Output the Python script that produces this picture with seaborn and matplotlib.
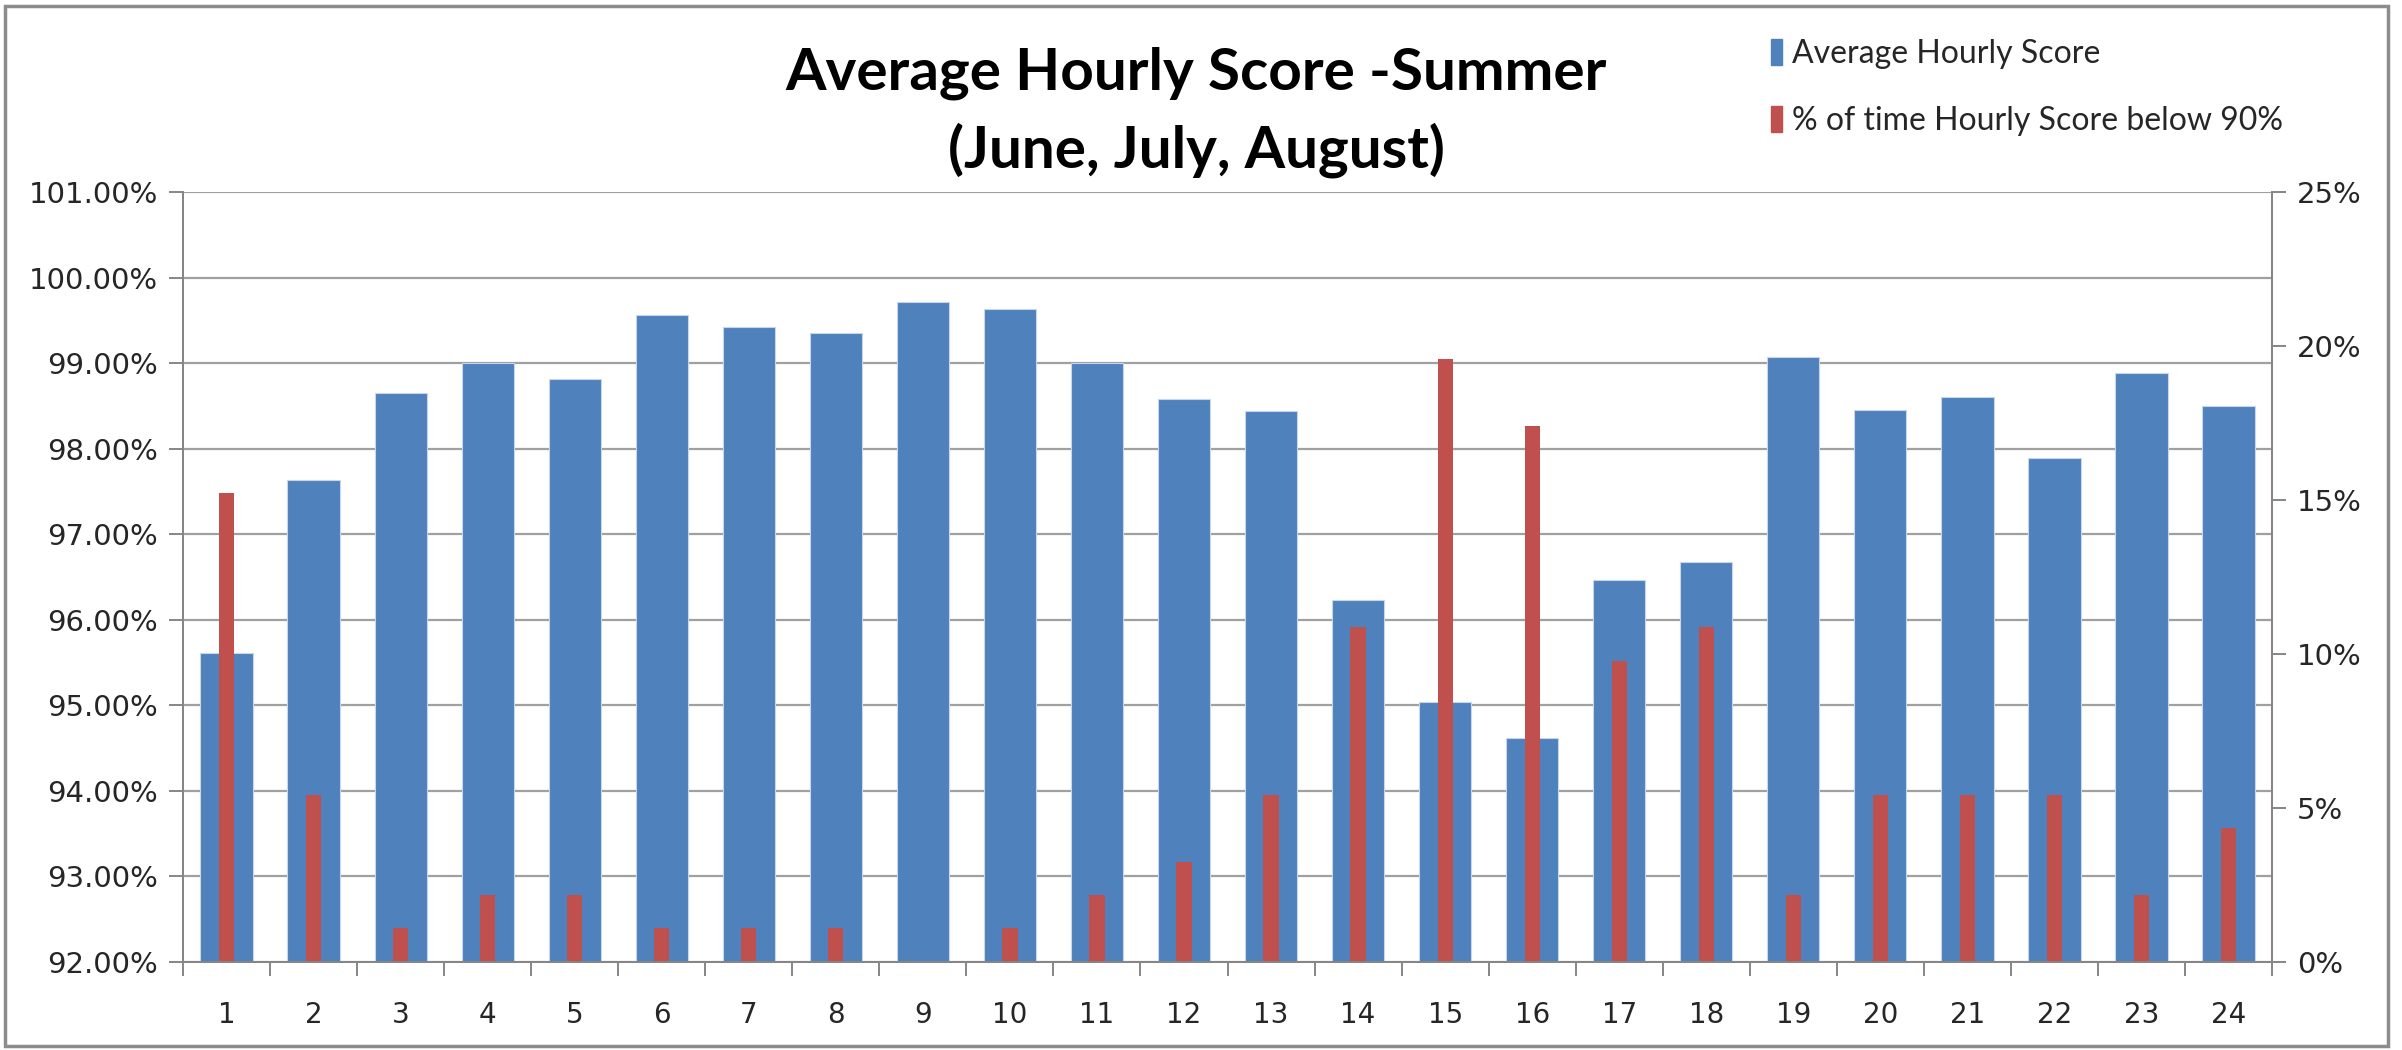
import numpy as np
import pandas as pd
import matplotlib.pyplot as plt
import matplotlib.patches as mpatches
from matplotlib.ticker import FuncFormatter, MultipleLocator, FixedLocator
import seaborn as sns

hours = list(range(1, 25))
avg_score = [95.61, 97.63, 98.65, 99.00, 98.81, 99.56, 99.42, 99.35, 99.71, 99.63,
             99.00, 98.58, 98.44, 96.23, 95.04, 94.62, 96.46, 96.68, 99.07, 98.45,
             98.61, 97.89, 98.89, 98.50]
pct_below = [15.22, 5.43, 1.09, 2.17, 2.17, 1.09, 1.09, 1.09, 0.00, 1.09,
             2.17, 3.26, 5.43, 10.87, 19.57, 17.39, 9.78, 10.87, 2.17, 5.43,
             5.43, 5.43, 2.17, 4.35]

blue = '#4F81BD'
red = '#C0504D'
grid_col = '#A0A0A0'
axis_col = '#868686'

df = pd.DataFrame({'hour': hours, 'avg': avg_score, 'pct': pct_below})

sns.set_style('white')
plt.rcParams['font.family'] = ['DejaVu Sans']

fig = plt.figure(figsize=(24.02, 10.5), dpi=100)
ax = fig.add_axes([0.0762, 0.0838, 0.8697, 0.7333])

sns.barplot(x='hour', y='avg', data=df, ax=ax, color=blue, width=0.6,
            saturation=1, edgecolor='#C9D6EA', linewidth=0.8)
ax.set_ylim(92, 101)
ax.set_xlim(-0.5, 23.5)
ax.yaxis.set_major_locator(MultipleLocator(1))
ax.yaxis.set_major_formatter(FuncFormatter(lambda v, p: f'{v:.2f}%'))
ax.grid(axis='y', color=grid_col, linewidth=1.6)
ax.set_axisbelow(True)
ax.set_xlabel('')
ax.set_ylabel('')

ax2 = ax.twinx()
sns.barplot(x='hour', y='pct', data=df, ax=ax2, color=red, width=0.175,
            saturation=1, linewidth=0)
ax2.set_ylim(0, 25)
ax2.set_xlim(-0.5, 23.5)
ax2.yaxis.set_major_locator(MultipleLocator(5))
ax2.yaxis.set_major_formatter(FuncFormatter(lambda v, p: f'{v:.0f}%'))
ax2.set_ylabel('')

for a in (ax, ax2):
    for s in a.spines.values():
        s.set_color(axis_col)
        s.set_linewidth(1.4)
    a.spines['top'].set_visible(False)

ax.tick_params(axis='y', which='major', length=10, width=1.4, color=axis_col,
               labelsize=21, labelcolor='#262626', pad=8, direction='out', left=True)
ax2.tick_params(axis='y', which='major', length=10, width=1.4, color=axis_col,
                labelsize=21, labelcolor='#262626', pad=8, direction='out', right=True)
ax.tick_params(axis='x', which='major', length=0, labelsize=20, labelcolor='#262626', pad=28)
ax.xaxis.set_minor_locator(FixedLocator(np.arange(-0.5, 24, 1)))
ax.tick_params(axis='x', which='minor', length=10, width=1.4, color=axis_col,
               direction='out', bottom=True)
ax2.tick_params(axis='x', which='both', length=0)

fig.text(0.498, 0.93, 'Average Hourly Score -Summer', ha='center', va='center',
         fontsize=42, fontweight='bold', family='Lato', color='black')
fig.text(0.498, 0.857, '(June, July, August)', ha='center', va='center',
         fontsize=42, fontweight='bold', family='Lato', color='black')

handles = [mpatches.Patch(color=blue, label='Average Hourly Score'),
           mpatches.Patch(color=red, label='% of time Hourly Score below 90%')]
fig.legend(handles=handles, loc='upper left', bbox_to_anchor=(0.7255, 0.99),
           frameon=False, prop={'family': 'Lato', 'size': 23},
           handlelength=0.33, handleheight=0.85, handletextpad=0.3, labelspacing=1.15)

fig.patches.append(mpatches.Rectangle((0.002, 0.004), 0.992, 0.99, transform=fig.transFigure,
                                      fill=False, edgecolor='#8C8C8C', linewidth=2.5))

if __name__ == "__main__":
    plt.savefig('out.png', dpi=100)
